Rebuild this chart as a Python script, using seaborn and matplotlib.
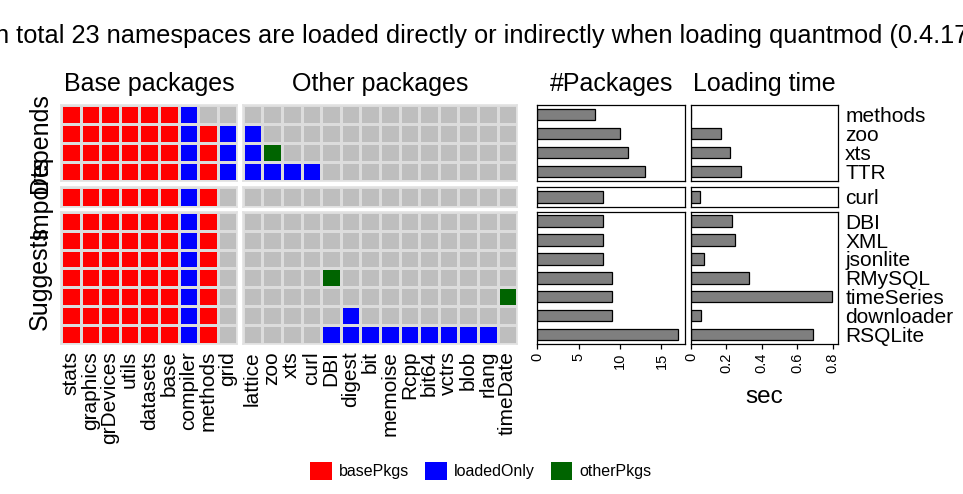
import pandas as pd
import seaborn as sns
import matplotlib.pyplot as plt
from matplotlib.colors import ListedColormap
from matplotlib.patches import Patch

title = "In total 23 namespaces are loaded directly or indirectly when loading quantmod (0.4.17)"

base_pkgs = ["stats", "graphics", "grDevices", "utils", "datasets", "base", "compiler", "methods", "grid"]
other_pkgs = ["lattice", "zoo", "xts", "curl", "DBI", "digest", "bit", "memoise", "Rcpp",
              "bit64", "vctrs", "blob", "rlang", "timeDate"]

depends = ["methods", "zoo", "xts", "TTR"]
imports = ["curl"]
suggests = ["DBI", "XML", "jsonlite", "RMySQL", "timeSeries", "downloader", "RSQLite"]

# b = basePkgs, l = loadedOnly, o = otherPkgs, . = not loaded
base_status = ["bbbbbbl..", "bbbbbblbl", "bbbbbblbl", "bbbbbblbl",
               "bbbbbblb.",
               "bbbbbblb.", "bbbbbblb.", "bbbbbblb.", "bbbbbblb.", "bbbbbblb.", "bbbbbblb.", "bbbbbblb."]
other_status = ["..............", "l.............", "lo............", "llll..........",
                "..............",
                "..............", "..............", "..............", "....o.........",
                ".............o", ".....l........", "....lllllllll."]

n_packages = [7, 10, 11, 13, 8, 8, 8, 8, 9, 9, 9, 17]
load_time = [0.002, 0.169, 0.221, 0.283, 0.052, 0.231, 0.246, 0.071, 0.325, 0.794, 0.056, 0.687]

legend_labels = ["basePkgs", "loadedOnly", "otherPkgs"]
tile_colors = ["#bebebe", "#ff0000", "#0000ff", "#006400"]

sns.set_style("white")
plt.rcParams['font.family'] = ['Liberation Sans', 'DejaVu Sans']
plt.rcParams['text.color'] = 'black'
plt.rcParams['xtick.color'] = 'black'
plt.rcParams['ytick.color'] = 'black'

W, H = 963, 494


def box(left, top, right, bottom):
    return [left / W, 1 - bottom / H, (right - left) / W, (bottom - top) / H]


groups = [("Depends", depends, 105, 181), ("Imports", imports, 186.7, 206.7), ("Suggests", suggests, 211.7, 344)]
cols_px = {"base": (61, 237.3), "other": (242.7, 517.3), "npkg": (537.3, 685), "time": (691, 838.3)}
codes = {".": 0, "b": 1, "l": 2, "o": 3}
tile_cmap = ListedColormap(tile_colors)

fig = plt.figure(figsize=(W / 100, H / 100), dpi=100)

start = 0
for name, rows, top, bottom in groups:
    sl = slice(start, start + len(rows))
    start += len(rows)
    last = name == "Suggests"

    # tile panels
    for key, cols, status in [("base", base_pkgs, base_status), ("other", other_pkgs, other_status)]:
        ax = fig.add_axes(box(cols_px[key][0], top, cols_px[key][1], bottom))
        mat = pd.DataFrame([[codes[c] for c in s] for s in status[sl]], index=rows, columns=cols)
        sns.heatmap(mat, ax=ax, cmap=tile_cmap, vmin=-0.5, vmax=3.5, cbar=False,
                    linewidths=1.0, linecolor="#dcdcdc",
                    xticklabels=cols if last else False, yticklabels=False)
        ax.set_xlabel("")
        ax.set_ylabel("")
        ax.tick_params(axis="x", length=0, pad=5, labelsize=15, labelrotation=90)
        for s in ax.spines.values():
            s.set_visible(True)
            s.set_color("#e2e2e2")
            s.set_linewidth(1.2)

    # bar panels
    df = pd.DataFrame({"pkg": rows, "n": n_packages[sl], "sec": load_time[sl]})
    for key, col, lim, ticks in [("npkg", "n", 17.85, [0, 5, 10, 15]),
                                 ("time", "sec", 0.832, [0, 0.2, 0.4, 0.6, 0.8])]:
        ax = fig.add_axes(box(cols_px[key][0], top, cols_px[key][1], bottom))
        sns.barplot(data=df, x=col, y="pkg", orient="h", color="#7f7f7f", saturation=1,
                    edgecolor="black", linewidth=0.9, width=0.6, errorbar=None, ax=ax)
        ax.set_xlim(0, lim)
        ax.set_xlabel("")
        ax.set_ylabel("")
        for s in ax.spines.values():
            s.set_visible(True)
            s.set_color("black")
            s.set_linewidth(0.9)
        if key == "time":
            ax.yaxis.tick_right()
            ax.tick_params(axis="y", left=False, right=True, length=0, pad=5, labelsize=15)
        else:
            ax.tick_params(axis="y", left=False, labelleft=False)
        if last:
            ax.set_xticks(ticks)
            ax.xaxis.set_major_formatter(lambda v, p: f"{v:g}")
            ax.tick_params(axis="x", bottom=True, length=3.5, width=0.9, pad=3,
                           labelsize=10.5, labelrotation=90)
        else:
            ax.tick_params(axis="x", bottom=False, labelbottom=False)

    fig.text(40 / W, 1 - (top + bottom) / 2 / H, name, rotation=90, ha="center", va="center", fontsize=18)

fig.text(482 / W, 1 - 42.7 / H, title, ha="center", va="baseline", fontsize=18.25)
for key, label in [("base", "Base packages"), ("other", "Other packages"),
                   ("npkg", "#Packages"), ("time", "Loading time")]:
    cx = sum(cols_px[key]) / 2
    fig.text(cx / W, 1 - 91 / H, label, ha="center", va="baseline", fontsize=18)
fig.text(764 / W, 1 - 403 / H, "sec", ha="center", va="baseline", fontsize=17.5)

handles = [Patch(facecolor=c, edgecolor="none", label=l) for c, l in zip(tile_colors[1:], legend_labels)]
fig.legend(handles=handles, loc="center", bbox_to_anchor=(481 / W, 1 - 471 / H), ncol=3, frameon=False,
           fontsize=11.5, handlelength=1.35, handleheight=1.35, handletextpad=0.45,
           columnspacing=1.0, borderaxespad=0)

fig.savefig("out.png", dpi=100)
